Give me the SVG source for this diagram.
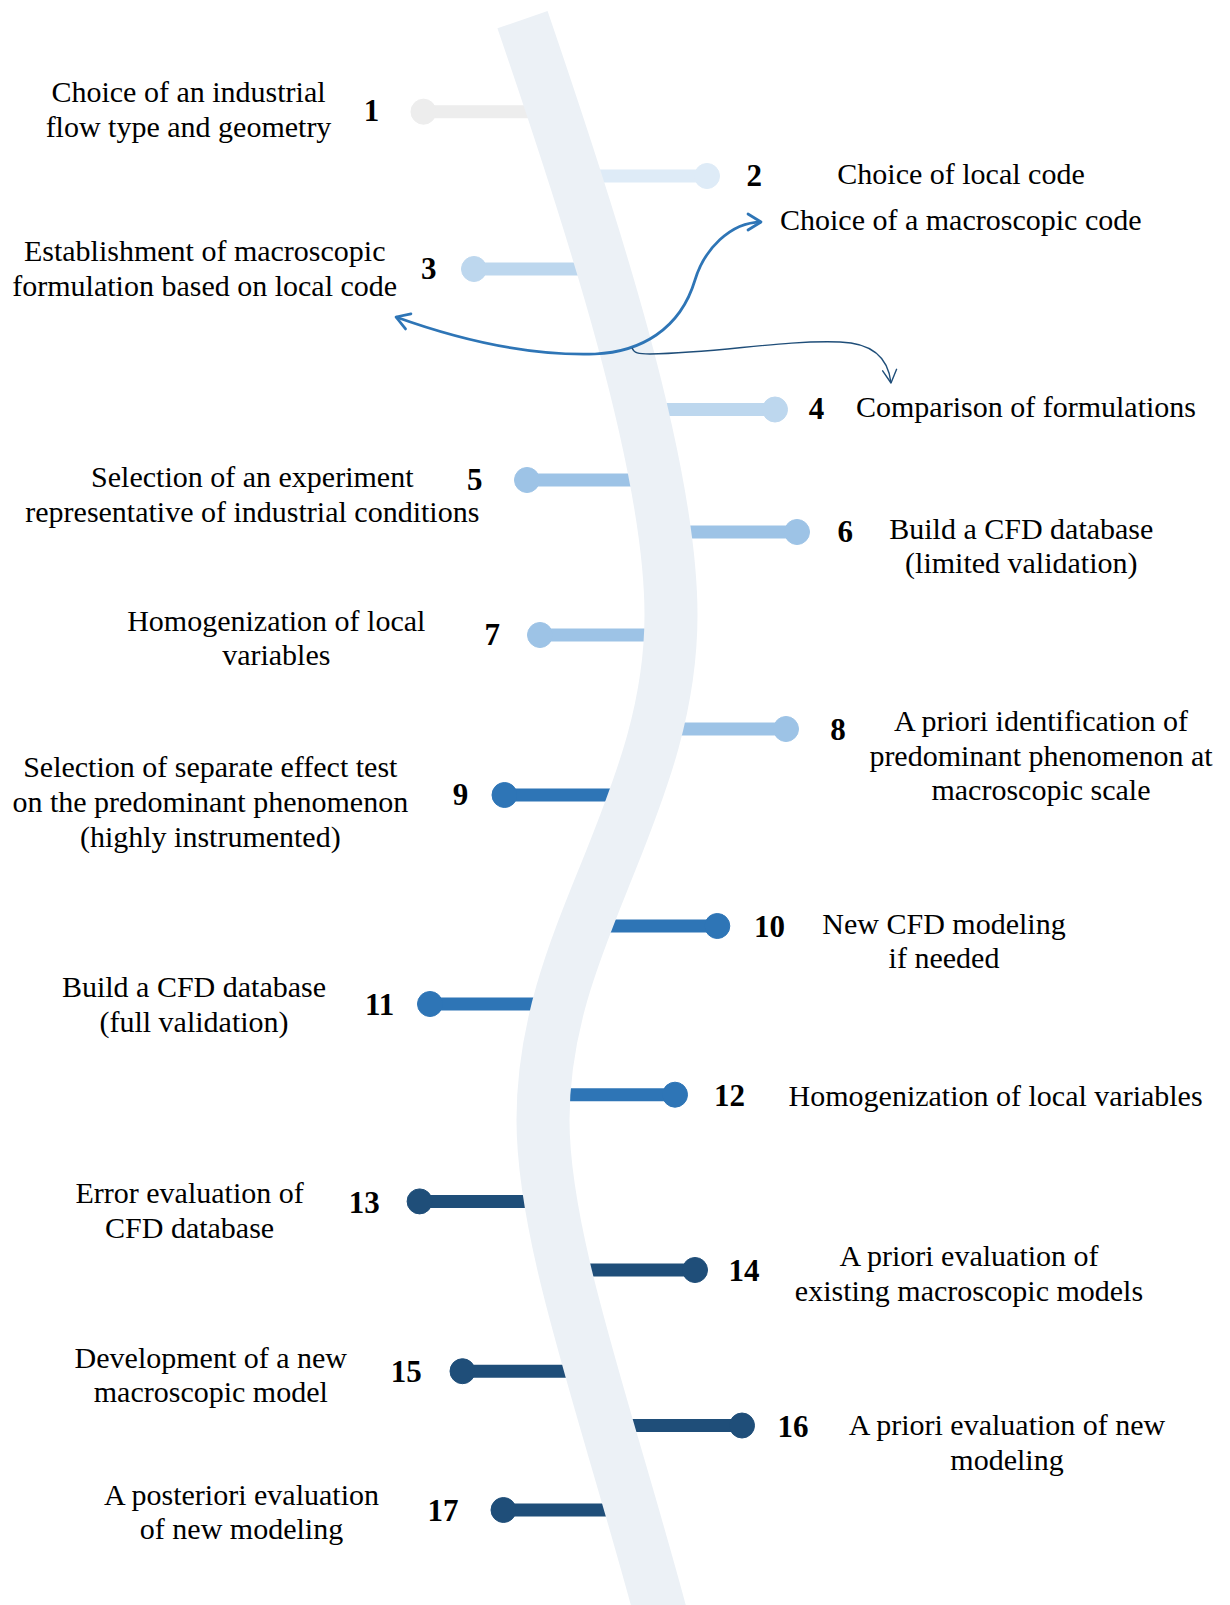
<svg xmlns="http://www.w3.org/2000/svg" width="1230" height="1605" viewBox="0 0 1230 1605">
  <style>
    .lbl { font-family: "Liberation Serif", "Times New Roman", serif; font-size: 30px; fill: #000; }
    .num { font-family: "Liberation Serif", "Times New Roman", serif; font-size: 31px; font-weight: bold; fill: #000; text-anchor: middle; }
    .mid { text-anchor: middle; }
    .stem { stroke-width: 13; fill: none; }
    .c0 { stroke: #EDEDED; fill: #EDEDED; }
    .c1 { stroke: #DEEBF7; fill: #DEEBF7; }
    .c2 { stroke: #BDD7EE; fill: #BDD7EE; }
    .c3 { stroke: #9DC3E6; fill: #9DC3E6; }
    .c4 { stroke: #2E75B6; fill: #2E75B6; }
    .c5 { stroke: #1F4E79; fill: #1F4E79; }
  </style>
  <defs>
    <marker id="headThick" markerUnits="userSpaceOnUse" viewBox="0 0 20 20" refX="16" refY="10" markerWidth="20" markerHeight="20" orient="auto-start-reverse">
      <path d="M3,2 L16,10 L3,18" fill="none" stroke="#2E75B6" stroke-width="2.75" stroke-linecap="round" stroke-linejoin="round"/>
    </marker>
    <marker id="headThin" markerUnits="userSpaceOnUse" viewBox="0 0 20 20" refX="16" refY="10" markerWidth="20" markerHeight="20" orient="auto">
      <path d="M3,3 L16,10 L3,17" fill="none" stroke="#1F4E79" stroke-width="1.4" stroke-linecap="round" stroke-linejoin="round"/>
    </marker>
  </defs>
  <rect width="1230" height="1605" fill="#FFFFFF"/>

  <!-- stems of the steps (drawn below the spine) -->
  <g id="stems">
    <line class="stem c0" x1="423.5" y1="111.7" x2="550" y2="111.7"/>
    <line class="stem c1" x1="707" y1="176" x2="578" y2="176"/>
    <line class="stem c2" x1="474" y1="269" x2="600" y2="269"/>
    <line class="stem c2" x1="775" y1="409.5" x2="645" y2="409.5"/>
    <line class="stem c3" x1="527" y1="480" x2="654" y2="480"/>
    <line class="stem c3" x1="797" y1="532" x2="667" y2="532"/>
    <line class="stem c3" x1="540" y1="635" x2="668" y2="635"/>
    <line class="stem c3" x1="786" y1="729" x2="657" y2="729"/>
    <line class="stem c4" x1="504.5" y1="795" x2="633" y2="795"/>
    <line class="stem c4" x1="717.3" y1="926" x2="588" y2="926"/>
    <line class="stem c4" x1="430" y1="1004" x2="558" y2="1004"/>
    <line class="stem c4" x1="675" y1="1094.7" x2="545" y2="1094.7"/>
    <line class="stem c5" x1="419.6" y1="1201.4" x2="550" y2="1201.4"/>
    <line class="stem c5" x1="695" y1="1270" x2="565" y2="1270"/>
    <line class="stem c5" x1="462.5" y1="1371.2" x2="590" y2="1371.2"/>
    <line class="stem c5" x1="742" y1="1425.5" x2="612" y2="1425.5"/>
    <line class="stem c5" x1="503.5" y1="1510" x2="635" y2="1510"/>
  </g>

  <!-- spine -->
  <path id="spine" d="M522.5,19.7 C591,220 671,465 671,615 C671,705 643,780 611,860 C579,940 543,1020 543,1120 C543,1240 606,1410 661,1615" fill="none" stroke="#ECF1F6" stroke-width="53" stroke-linecap="butt"/>

  <!-- steps -->
  <g id="step1">
    <circle class="c0" cx="423.5" cy="111.7" r="12.5"/>
    <text class="num" x="371.5" y="121">1</text>
    <text class="lbl mid" x="188.5" y="102">Choice of an industrial</text>
    <text class="lbl mid" x="188.5" y="137">flow type and geometry</text>
  </g>
  <g id="step2">
    <circle class="c1" cx="707" cy="176" r="12.5"/>
    <text class="num" x="754.2" y="186">2</text>
    <text class="lbl mid" x="961" y="183.5">Choice of local code</text>
    <text class="lbl" x="780" y="230">Choice of a macroscopic code</text>
  </g>
  <g id="step3">
    <circle class="c2" cx="474" cy="269" r="12.5"/>
    <text class="num" x="428.8" y="279">3</text>
    <text class="lbl mid" x="204.7" y="260.5">Establishment of macroscopic</text>
    <text class="lbl mid" x="204.7" y="295.5">formulation based on local code</text>
  </g>
  <g id="step4">
    <circle class="c2" cx="775" cy="409.5" r="12.5"/>
    <text class="num" x="816.6" y="419">4</text>
    <text class="lbl mid" x="1026" y="417">Comparison of formulations</text>
  </g>
  <g id="step5">
    <circle class="c3" cx="527" cy="480" r="12.5"/>
    <text class="num" x="474.8" y="490">5</text>
    <text class="lbl mid" x="252.3" y="487.4">Selection of an experiment</text>
    <text class="lbl mid" x="252.3" y="522.2">representative of industrial conditions</text>
  </g>
  <g id="step6">
    <circle class="c3" cx="797" cy="532" r="12.5"/>
    <text class="num" x="845.2" y="542">6</text>
    <text class="lbl mid" x="1021.3" y="538.5">Build a CFD database</text>
    <text class="lbl mid" x="1021.3" y="573.3">(limited validation)</text>
  </g>
  <g id="step7">
    <circle class="c3" cx="540" cy="635" r="12.5"/>
    <text class="num" x="492.2" y="645">7</text>
    <text class="lbl mid" x="276.3" y="630.6">Homogenization of local</text>
    <text class="lbl mid" x="276.3" y="665.4">variables</text>
  </g>
  <g id="step8">
    <circle class="c3" cx="786" cy="729" r="12.5"/>
    <text class="num" x="838.1" y="740">8</text>
    <text class="lbl mid" x="1041" y="731">A priori identification of</text>
    <text class="lbl mid" x="1041" y="765.7">predominant phenomenon at</text>
    <text class="lbl mid" x="1041" y="799.5">macroscopic scale</text>
  </g>
  <g id="step9">
    <circle class="c4" cx="504.5" cy="795" r="12.5"/>
    <text class="num" x="460.5" y="805">9</text>
    <text class="lbl mid" x="210.3" y="777">Selection of separate effect test</text>
    <text class="lbl mid" x="210.3" y="811.8">on the predominant phenomenon</text>
    <text class="lbl mid" x="210.3" y="846.5">(highly instrumented)</text>
  </g>
  <g id="step10">
    <circle class="c4" cx="717.3" cy="926" r="12.5"/>
    <text class="num" x="769.5" y="936.5">10</text>
    <text class="lbl mid" x="944" y="933.5">New CFD modeling</text>
    <text class="lbl mid" x="944" y="968.3">if needed</text>
  </g>
  <g id="step11">
    <circle class="c4" cx="430" cy="1004" r="12.5"/>
    <text class="num" x="379.6" y="1014.5">11</text>
    <text class="lbl mid" x="194" y="997">Build a CFD database</text>
    <text class="lbl mid" x="194" y="1031.8">(full validation)</text>
  </g>
  <g id="step12">
    <circle class="c4" cx="675" cy="1094.7" r="12.5"/>
    <text class="num" x="729.6" y="1106">12</text>
    <text class="lbl mid" x="995.6" y="1105.5">Homogenization of local variables</text>
  </g>
  <g id="step13">
    <circle class="c5" cx="419.6" cy="1201.4" r="12.5"/>
    <text class="num" x="364.3" y="1213">13</text>
    <text class="lbl mid" x="189.6" y="1202.7">Error evaluation of</text>
    <text class="lbl mid" x="189.6" y="1237.5">CFD database</text>
  </g>
  <g id="step14">
    <circle class="c5" cx="695" cy="1270" r="12.5"/>
    <text class="num" x="744" y="1280.5">14</text>
    <text class="lbl mid" x="969" y="1266">A priori evaluation of</text>
    <text class="lbl mid" x="969" y="1301">existing macroscopic models</text>
  </g>
  <g id="step15">
    <circle class="c5" cx="462.5" cy="1371.2" r="12.5"/>
    <text class="num" x="406.3" y="1382">15</text>
    <text class="lbl mid" x="210.8" y="1367.5">Development of a new</text>
    <text class="lbl mid" x="210.8" y="1402.2">macroscopic model</text>
  </g>
  <g id="step16">
    <circle class="c5" cx="742" cy="1425.5" r="12.5"/>
    <text class="num" x="793" y="1437">16</text>
    <text class="lbl mid" x="1007" y="1435">A priori evaluation of new</text>
    <text class="lbl mid" x="1007" y="1469.8">modeling</text>
  </g>
  <g id="step17">
    <circle class="c5" cx="503.5" cy="1510" r="12.5"/>
    <text class="num" x="443.1" y="1521">17</text>
    <text class="lbl mid" x="241.5" y="1504.5">A posteriori evaluation</text>
    <text class="lbl mid" x="241.5" y="1539.3">of new modeling</text>
  </g>

  <!-- connectors around step 3 -->
  <g id="connectors" fill="none">
    <path d="M396,317 C460,340 530,356 595,354 C640,352 680,330 695,280 C704,250 730,222 761,222" stroke="#2E75B6" stroke-width="2.75" marker-start="url(#headThick)" marker-end="url(#headThick)"/>
    <path d="M632,348 C634,353 638,354 650,354 C720,353 780,340 840,342 C870,343 888,355 891,383" stroke="#1F4E79" stroke-width="1.4" marker-end="url(#headThin)"/>
  </g>
</svg>
